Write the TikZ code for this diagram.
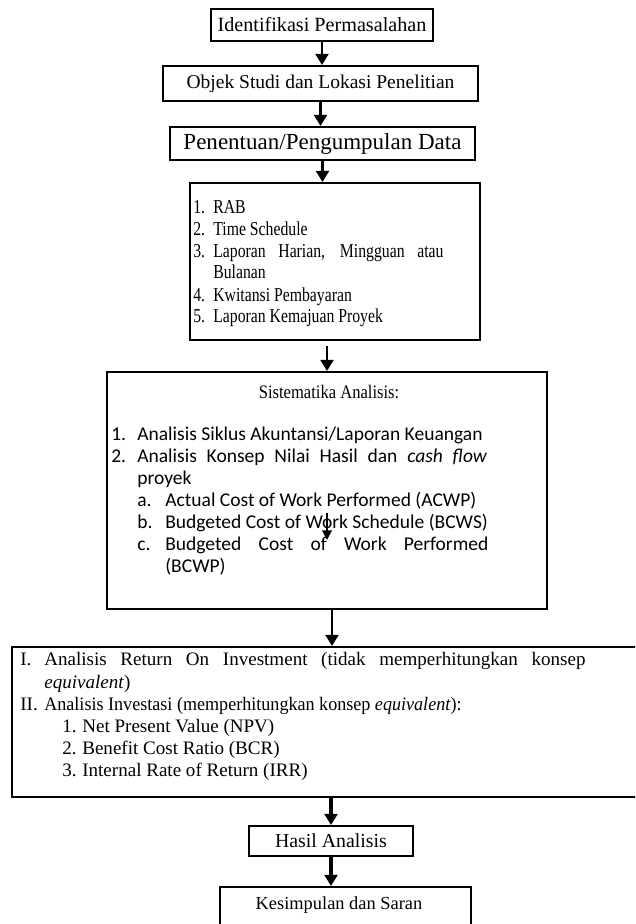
\documentclass[tikz,border=0pt]{standalone}
\usepackage{fontspec}
\setmainfont{Liberation Serif}
\newfontfamily\calfont{Carlito}
\newfontfamily\condserif[FakeStretch=0.8]{Liberation Serif}
\newfontfamily\semicond[FakeStretch=0.87]{Liberation Serif}
\usetikzlibrary{arrows.meta,fit}
\tikzset{
  x=0.63pt, y=-0.63pt,
  box/.style={draw, line width=1.2pt, inner sep=0pt},
  lbl/.style={inner sep=0pt, anchor=center},
  txt/.style={anchor=west, inner sep=0pt, text height=1.6ex, text depth=.3ex, font=\fontsize{12}{14}\selectfont},
  ctxt/.style={txt, font=\calfont\fontsize{12.3}{14}\selectfont},
  ntxt/.style={txt, font=\condserif\fontsize{12.4}{14}\selectfont},
  arr/.style={line width=1.8pt, -{Triangle[length=7pt,width=8pt]}},
  thickarr/.style={line width=2.4pt, -{Triangle[length=7pt,width=8pt]}},
  thinarr/.style={line width=1.1pt, -{Triangle[length=6pt,width=6pt]}}
}
\begin{document}
\begin{tikzpicture}
\clip (0,0) rectangle (635,924);
\fill[white] (0,0) rectangle (635,924);

% Box 1-3
\node[box, fit={(211,9) (433,41)}] (b1) {};
\node[lbl, font=\fontsize{12.7}{15}\selectfont] (l1) at (b1.center) {Identifikasi Permasalahan};
\node[box, fit={(163,66) (478,101)}] (b2) {};
\node[lbl, font=\fontsize{12.3}{15}\selectfont] (l2) at (b2.center) {Objek Studi dan Lokasi Penelitian};
\node[box, fit={(170,127) (475,160)}] (b3) {};
\node[lbl, font=\fontsize{14.5}{16}\selectfont] (l3) at (b3.center) {Penentuan/Pengumpulan Data};

% Box 4
\node[box, fit={(190,183) (480,340)}] (b4) {};
\node[ntxt] (n41) at (193,209) {1.};
\node[ntxt] (t41) at (213,209) {RAB};
\node[ntxt] (n42) at (193,231) {2.};
\node[ntxt] (t42) at (213,231) {Time Schedule};
\node[ntxt] (n43) at (193,253) {3.};
\node[ntxt] (t43) at (213,253) {\makebox[145pt][s]{Laporan Harian, Mingguan atau}};
\node[ntxt] (t43b) at (213,274) {Bulanan};
\node[ntxt] (n44) at (193,297) {4.};
\node[ntxt] (t44) at (213,297) {Kwitansi Pembayaran};
\node[ntxt] (n45) at (193,318) {5.};
\node[ntxt] (t45) at (213,318) {Laporan Kemajuan Proyek};

% Box 5
\node[box, fit={(107,372) (547,609)}] (b5) {};
\node[lbl, font=\semicond\fontsize{12}{14}\selectfont] (h5) at (329,392) {Sistematika Analisis:};
\node[ctxt] (n51) at (111,436) {1.};
\node[ctxt] (t51) at (137,436) {Analisis Siklus Akuntansi/Laporan Keuangan};
\node[ctxt] (n52) at (111,458) {2.};
\node[ctxt] (t52) at (137,458) {\makebox[220.5pt][s]{Analisis Konsep Nilai Hasil dan \textit{cash flow}}};
\node[ctxt] (t52b) at (137,480) {proyek};
\node[ctxt] (n5a) at (137,502) {a.};
\node[ctxt] (t5a) at (165,502) {Actual Cost of Work Performed (ACWP)};
\node[ctxt] (n5b) at (137,524) {b.};
\node[ctxt] (t5b) at (165,524) {Budgeted Cost of Work Schedule (BCWS)};
\node[ctxt] (n5c) at (137,546) {c.};
\node[ctxt] (t5c) at (165,546) {\makebox[203.5pt][s]{Budgeted Cost of Work Performed}};
\node[ctxt] (t5cb) at (165,568) {(BCWP)};
\coordinate (s1) at (327,513);
\coordinate (s2) at (327,540);
\draw[thinarr] (s1) -- (s2);

% Box 6
\node[box, fit={(12,647) (660,797)}] (b6) {};
\node[txt] (n61) at (20,661) {I.};
\node[txt] (t61) at (44,661) {\makebox[341pt][s]{Analisis Return On Investment (tidak memperhitungkan konsep}};
\node[txt] (t61b) at (44,684) {\textit{equivalent})};
\node[txt] (n62) at (20,706) {II.};
\node[txt] (t62) at (44,706) {\scalebox{0.95}[1]{Analisis Investasi (memperhitungkan konsep \textit{equivalent}):}};
\node[txt] (n621) at (62,728) {1.};
\node[txt] (t621) at (82,728) {Net Present Value (NPV)};
\node[txt] (n622) at (62,750) {2.};
\node[txt] (t622) at (82,750) {Benefit Cost Ratio (BCR)};
\node[txt] (n623) at (62,772) {3.};
\node[txt] (t623) at (82,772) {Internal Rate of Return (IRR)};

% Box 7, 8
\node[box, fit={(249,826) (413,856)}] (b7) {};
\node[lbl, font=\fontsize{12.5}{15}\selectfont] (l7) at (b7.center) {Hasil Analisis};
\node[box, fit={(220,887) (471,950)}] (b8) {};
\node[lbl, font=\fontsize{11.6}{14}\selectfont] (l8) at (339,905) {Kesimpulan dan Saran};

% connectors
\draw[arr] (b1.south) -- (b1.south |- b2.north);
\draw[arr] (b2.south) -- (b2.south |- b3.north);
\draw[arr] (b3.south) -- (b3.south |- b4.north);
\coordinate (a4) at (327,346);
\draw[arr] (a4) -- (a4 |- b5.north);
\coordinate (a5) at (332,609);
\draw[arr] (a5) -- (a5 |- b6.north);
\draw[thickarr] (b7.north |- b6.south) -- (b7.north);
\draw[thickarr] (b7.south) -- (b7.south |- b8.north);
\end{tikzpicture}
\end{document}
